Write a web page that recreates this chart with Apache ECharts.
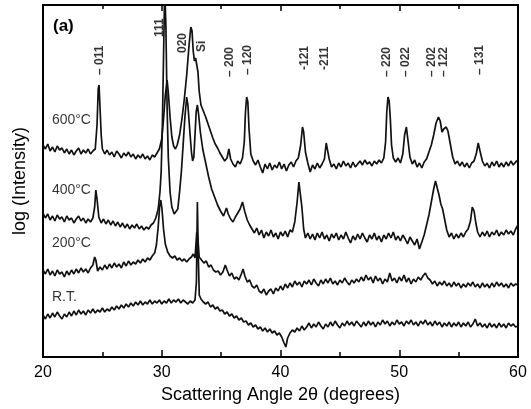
<!DOCTYPE html>
<html>
<head>
<meta charset="utf-8">
<script src="https://cdn.jsdelivr.net/npm/echarts@6/dist/echarts.min.js"></script>
<style>
  html, body { margin: 0; padding: 0; background: #fff; }
  #chart { width: 531px; height: 409px; }
</style>
</head>
<body>
<div id="chart"></div>
<script>
// XRD scans, [2theta, log intensity (arbitrary, offset per temperature)]
const scan600 = [
  [20.0,212],[20.2,208],[20.4,213],[20.6,206],[20.8,210],[21.0,205],[21.2,211],[21.4,207],[21.6,209],[21.8,204],
  [22.0,208],[22.2,203],[22.4,207],[22.6,202],[22.8,206],[23.0,209],[23.2,203],[23.4,207],[23.6,204],[23.8,208],
  [24.0,203],[24.2,206],[24.4,208],[24.55,232],[24.65,268],[24.72,272],[24.8,250],[24.9,222],[25.0,208],[25.2,203],
  [25.4,207],[25.6,202],[25.8,205],[26.0,200],[26.2,206],[26.4,203],[26.6,199],[26.8,204],[27.0,201],[27.2,205],
  [27.4,200],[27.6,203],[27.8,198],[28.0,202],[28.2,199],[28.4,203],[28.6,198],[28.8,201],[29.0,197],[29.2,202],
  [29.4,200],[29.6,204],[29.8,208],[30.0,218],[30.15,238],[30.3,262],[30.45,277],[30.55,265],[30.7,240],[30.85,220],
  [31.0,211],[31.15,208],[31.3,212],[31.5,222],[31.7,238],[31.9,258],[32.1,282],[32.3,312],[32.45,330],[32.55,326],
  [32.65,306],[32.75,296],[32.85,299],[32.95,297],[33.05,285],[33.15,266],[33.3,252],[33.5,246],[33.7,240],[33.9,233],
  [34.1,226],[34.3,219],[34.5,213],[34.7,209],[34.9,204],[35.1,200],[35.3,196],[35.5,199],[35.65,208],[35.8,198],
  [36.0,193],[36.2,190],[36.4,196],[36.6,193],[36.8,199],[36.95,215],[37.05,245],[37.15,260],[37.25,255],[37.35,228],
  [37.5,203],[37.7,196],[37.9,192],[38.1,197],[38.3,190],[38.5,184],[38.7,193],[38.9,188],[39.1,194],[39.3,187],
  [39.5,192],[39.7,189],[39.9,195],[40.1,188],[40.3,193],[40.5,186],[40.7,192],[40.9,195],[41.1,190],[41.3,196],
  [41.5,199],[41.7,212],[41.85,230],[41.95,225],[42.1,205],[42.3,194],[42.5,185],[42.7,192],[42.9,188],[43.1,194],
  [43.3,189],[43.5,193],[43.7,198],[43.85,214],[43.95,212],[44.1,198],[44.3,190],[44.5,193],[44.7,188],[44.9,194],
  [45.1,190],[45.3,196],[45.5,191],[45.7,194],[45.9,189],[46.1,195],[46.3,190],[46.5,193],[46.7,196],[46.9,192],
  [47.1,197],[47.3,193],[47.5,195],[47.7,191],[47.9,196],[48.1,193],[48.3,197],[48.5,194],[48.7,199],[48.85,215],
  [48.95,245],[49.05,260],[49.15,256],[49.25,238],[49.35,212],[49.5,199],[49.7,195],[49.9,199],[50.1,194],[50.3,203],
  [50.45,222],[50.6,230],[50.75,215],[50.9,200],[51.1,193],[51.3,197],[51.5,190],[51.7,194],[51.9,189],[52.1,195],
  [52.3,198],[52.5,205],[52.7,212],[52.9,222],[53.1,234],[53.3,240],[53.45,236],[53.6,225],[53.75,228],[53.95,230],
  [54.1,226],[54.3,213],[54.5,200],[54.7,193],[54.9,196],[55.1,191],[55.3,195],[55.5,190],[55.7,194],[55.9,189],
  [56.1,194],[56.3,196],[56.5,204],[56.65,214],[56.8,206],[57.0,196],[57.2,191],[57.4,194],[57.6,189],[57.8,195],
  [58.0,191],[58.2,196],[58.4,190],[58.6,194],[58.8,190],[59.0,195],[59.2,191],[59.4,196],[59.6,192],[59.8,195],[60.0,197]
];
const scan400 = [
  [20.0,144],[20.2,139],[20.4,143],[20.6,137],[20.8,141],[21.0,136],[21.2,142],[21.4,138],[21.6,140],[21.8,135],
  [22.0,141],[22.2,137],[22.4,139],[22.6,134],[22.8,138],[23.0,141],[23.2,136],[23.4,139],[23.6,134],[23.8,138],
  [24.0,135],[24.2,139],[24.35,150],[24.45,167],[24.55,158],[24.7,140],[24.9,134],[25.1,138],[25.3,133],[25.5,137],
  [25.7,132],[25.9,136],[26.1,131],[26.3,135],[26.5,130],[26.7,134],[26.9,129],[27.1,133],[27.3,128],[27.5,132],
  [27.7,129],[27.9,133],[28.1,128],[28.3,131],[28.5,127],[28.7,130],[28.9,128],[29.1,132],[29.3,134],[29.5,139],
  [29.7,148],[29.85,165],[29.95,185],[30.05,230],[30.15,300],[30.25,370],[30.35,330],[30.45,250],[30.55,200],[30.7,165],
  [30.85,150],[31.05,143],[31.2,141],[31.35,148],[31.5,165],[31.65,185],[31.8,212],[31.95,240],[32.1,260],[32.2,252],
  [32.35,228],[32.5,205],[32.6,196],[32.7,200],[32.8,222],[32.9,245],[33.0,252],[33.1,243],[33.25,225],[33.45,208],
  [33.7,194],[33.95,180],[34.2,168],[34.45,160],[34.7,152],[34.95,146],[35.2,141],[35.45,149],[35.6,143],[35.8,138],
  [36.0,135],[36.2,140],[36.4,144],[36.6,148],[36.8,155],[37.0,145],[37.2,137],[37.4,132],[37.6,128],[37.8,124],
  [38.0,129],[38.2,122],[38.4,127],[38.6,119],[38.8,125],[39.0,121],[39.2,127],[39.4,120],[39.6,124],[39.8,118],
  [40.0,125],[40.2,121],[40.4,126],[40.6,120],[40.8,127],[41.0,125],[41.2,135],[41.4,155],[41.55,175],[41.65,173],
  [41.8,150],[41.95,128],[42.1,119],[42.3,124],[42.5,118],[42.7,123],[42.9,117],[43.1,124],[43.3,119],[43.5,125],
  [43.7,118],[43.9,122],[44.1,116],[44.3,123],[44.5,119],[44.7,124],[44.9,117],[45.1,122],[45.3,118],[45.5,125],
  [45.7,119],[45.9,114],[46.1,121],[46.3,117],[46.5,123],[46.7,118],[46.9,124],[47.1,119],[47.3,115],[47.5,122],
  [47.7,118],[47.9,124],[48.1,117],[48.3,121],[48.5,115],[48.7,122],[48.9,118],[49.1,124],[49.3,119],[49.5,125],
  [49.7,117],[49.9,121],[50.1,116],[50.3,122],[50.5,118],[50.7,113],[50.9,120],[51.1,116],[51.3,112],[51.5,118],
  [51.7,108],[51.9,115],[52.1,122],[52.3,132],[52.5,142],[52.7,155],[52.9,168],[53.05,176],[53.2,175],[53.35,162],
  [53.5,153],[53.65,148],[53.8,139],[54.0,127],[54.2,120],[54.4,124],[54.6,118],[54.8,123],[55.0,119],[55.2,124],
  [55.4,120],[55.6,125],[55.8,128],[56.0,136],[56.15,150],[56.3,146],[56.45,134],[56.6,125],[56.8,120],[57.0,125],
  [57.2,121],[57.4,126],[57.6,120],[57.8,125],[58.0,122],[58.2,127],[58.4,121],[58.6,125],[58.8,122],[59.0,127],
  [59.2,123],[59.4,126],[59.6,122],[59.8,128],[60.0,132]
];
const scan200 = [
  [20.0,87],[20.2,83],[20.4,88],[20.6,82],[20.8,86],[21.0,81],[21.2,87],[21.4,83],[21.6,85],[21.8,80],
  [22.0,86],[22.2,82],[22.4,87],[22.6,83],[22.8,88],[23.0,84],[23.2,89],[23.4,85],[23.6,88],[23.8,84],
  [24.0,89],[24.2,92],[24.35,100],[24.45,97],[24.6,86],[24.8,90],[25.0,87],[25.2,92],[25.4,88],[25.6,93],
  [25.8,89],[26.0,94],[26.2,90],[26.4,93],[26.6,89],[26.8,95],[27.0,91],[27.2,96],[27.4,92],[27.6,95],
  [27.8,93],[28.0,97],[28.2,94],[28.4,98],[28.6,95],[28.8,99],[29.0,97],[29.2,101],[29.4,104],[29.55,112],
  [29.7,130],[29.82,150],[29.92,157],[30.02,148],[30.15,128],[30.3,113],[30.5,105],[30.7,101],[30.9,99],[31.1,101],
  [31.3,97],[31.5,99],[31.7,96],[31.9,98],[32.1,95],[32.3,98],[32.5,100],[32.65,103],[32.8,99],[32.95,125],
  [33.05,118],[33.15,100],[33.35,97],[33.55,94],[33.75,96],[33.95,90],[34.15,92],[34.35,87],[34.55,85],[34.75,86],
  [34.95,82],[35.15,85],[35.35,92],[35.5,87],[35.7,81],[35.9,84],[36.1,78],[36.3,80],[36.5,77],[36.7,83],
  [36.85,88],[37.0,81],[37.2,75],[37.4,77],[37.6,71],[37.8,69],[38.0,72],[38.2,66],[38.4,64],[38.6,68],
  [38.8,62],[39.0,66],[39.2,68],[39.4,63],[39.6,69],[39.8,66],[40.0,71],[40.2,67],[40.4,73],[40.6,69],
  [40.8,74],[41.0,70],[41.2,76],[41.4,72],[41.6,75],[41.8,70],[42.0,76],[42.2,73],[42.4,77],[42.6,72],
  [42.8,78],[43.0,74],[43.2,71],[43.4,77],[43.6,73],[43.8,78],[44.0,74],[44.2,79],[44.4,73],[44.6,76],
  [44.8,72],[45.0,77],[45.2,74],[45.4,79],[45.6,75],[45.8,72],[46.0,77],[46.2,74],[46.4,78],[46.6,75],
  [46.8,80],[47.0,76],[47.2,82],[47.4,77],[47.6,80],[47.8,74],[48.0,81],[48.2,76],[48.4,79],[48.6,73],
  [48.8,78],[49.0,75],[49.2,84],[49.4,76],[49.6,79],[49.8,74],[50.0,80],[50.2,76],[50.4,82],[50.6,75],
  [50.8,79],[51.0,73],[51.2,78],[51.4,75],[51.6,80],[51.8,77],[52.0,81],[52.2,84],[52.4,79],[52.6,77],
  [52.8,73],[53.0,76],[53.2,71],[53.4,75],[53.6,72],[53.8,76],[54.0,71],[54.2,74],[54.4,70],[54.6,75],
  [54.8,71],[55.0,74],[55.2,69],[55.4,73],[55.6,70],[55.8,74],[56.0,71],[56.2,75],[56.4,70],[56.6,73],
  [56.8,69],[57.0,74],[57.2,70],[57.4,73],[57.6,69],[57.8,74],[58.0,70],[58.2,75],[58.4,71],[58.6,74],
  [58.8,70],[59.0,73],[59.2,69],[59.4,74],[59.6,71],[59.8,73],[60.0,72]
];
const scanRT = [
  [20.0,42],[20.2,38],[20.4,43],[20.6,39],[20.8,44],[21.0,40],[21.2,45],[21.4,41],[21.6,38],[21.8,43],
  [22.0,40],[22.2,45],[22.4,41],[22.6,46],[22.8,42],[23.0,47],[23.2,43],[23.4,46],[23.6,42],[23.8,47],
  [24.0,44],[24.2,48],[24.4,44],[24.6,47],[24.8,45],[25.0,49],[25.2,45],[25.4,48],[25.6,46],[25.8,50],
  [26.0,47],[26.2,51],[26.4,48],[26.6,52],[26.8,49],[27.0,53],[27.2,50],[27.4,54],[27.6,51],[27.8,55],
  [28.0,52],[28.2,56],[28.4,52],[28.6,55],[28.8,53],[29.0,57],[29.2,53],[29.4,56],[29.6,54],[29.8,57],
  [30.0,53],[30.2,56],[30.4,54],[30.6,58],[30.8,54],[31.0,57],[31.2,55],[31.4,58],[31.6,54],[31.8,57],
  [32.0,55],[32.2,53],[32.4,56],[32.6,54],[32.8,57],[32.92,75],[33.0,155],[33.08,100],[33.16,62],[33.3,58],
  [33.5,55],[33.7,53],[33.9,55],[34.1,50],[34.3,52],[34.5,48],[34.7,50],[34.9,46],[35.1,47],[35.3,43],
  [35.5,45],[35.7,41],[35.9,43],[36.1,39],[36.3,41],[36.5,37],[36.7,39],[36.9,35],[37.1,36],[37.3,32],
  [37.5,34],[37.7,30],[37.9,32],[38.1,28],[38.3,30],[38.5,26],[38.7,29],[38.9,25],[39.1,28],[39.3,24],
  [39.5,26],[39.7,22],[39.9,24],[40.1,20],[40.3,14],[40.45,10],[40.6,19],[40.8,24],[41.0,27],[41.2,25],
  [41.4,29],[41.6,26],[41.8,31],[42.0,27],[42.2,30],[42.4,34],[42.6,29],[42.8,33],[43.0,30],[43.2,35],
  [43.4,31],[43.6,28],[43.8,33],[44.0,30],[44.2,35],[44.4,31],[44.6,36],[44.8,32],[45.0,29],[45.2,34],
  [45.4,31],[45.6,36],[45.8,32],[46.0,35],[46.2,31],[46.4,36],[46.6,33],[46.8,30],[47.0,35],[47.2,31],
  [47.4,36],[47.6,32],[47.8,35],[48.0,30],[48.2,35],[48.4,32],[48.6,37],[48.8,33],[49.0,36],[49.2,31],
  [49.4,35],[49.6,32],[49.8,37],[50.0,33],[50.2,35],[50.4,31],[50.6,36],[50.8,33],[51.0,37],[51.2,32],
  [51.4,35],[51.6,31],[51.8,36],[52.0,33],[52.2,37],[52.4,32],[52.6,35],[52.8,31],[53.0,36],[53.2,32],
  [53.4,35],[53.6,30],[53.8,34],[54.0,31],[54.2,35],[54.4,30],[54.6,34],[54.8,31],[55.0,35],[55.2,30],
  [55.4,34],[55.6,31],[55.8,35],[56.0,30],[56.2,33],[56.4,38],[56.6,31],[56.8,34],[57.0,30],[57.2,33],
  [57.4,29],[57.6,34],[57.8,30],[58.0,33],[58.2,29],[58.4,34],[58.6,30],[58.8,33],[59.0,29],[59.2,34],
  [59.4,31],[59.6,33],[59.8,30],[60.0,31]
];

// reflection labels (hkl) along the top
const peakAngle = [24.8, 29.85, 31.8, 33.4, 35.75, 37.25, 42.05, 43.75, 48.95, 50.5, 52.75, 53.7, 56.8];
const peakText = ['– 011', '111', '020', 'Si', '– 200', '– 120', '-121', '-211', '– 220', '– 022', '– 202', '– 122', '– 131'];
const peakLabelBase = [282, 320, 304, 305, 280, 282, 287, 287, 280, 280, 280, 280, 282];

// temperature labels on the left
const tempText = ['600°C', '400°C', '200°C', 'R.T.'];
const tempLevel = [237, 167, 114, 60];

const xTicks = [20, 30, 40, 50, 60];

const chart = echarts.init(document.getElementById('chart'));

const tickStyle = { color: '#000', width: 1.5 };
const fontFam = 'Liberation Sans, Arial, sans-serif';

const lineSeries = (data) => ({
  type: 'line',
  data: data,
  showSymbol: false,
  symbol: 'none',
  clip: true,
  animation: false,
  lineStyle: { color: '#111', width: 1.7 },
  z: 3
});

const option = {
  animation: false,
  grid: {
    left: 43, right: 13, top: 5, bottom: 52,
    show: true, borderColor: '#000', borderWidth: 2, backgroundColor: 'transparent'
  },
  xAxis: [
    {
      type: 'value', position: 'bottom',
      min: xTicks[0], max: xTicks[xTicks.length - 1], interval: 10,
      name: 'Scattering Angle 2θ (degrees)',
      nameLocation: 'middle', nameGap: 29,
      nameTextStyle: { fontSize: 18, color: '#000', fontFamily: fontFam },
      axisLine: { show: false },
      axisTick: { show: true, inside: true, length: 7, lineStyle: tickStyle },
      minorTick: { show: true, splitNumber: 2, length: 5, lineStyle: tickStyle },
      axisLabel: { fontSize: 16, color: '#000', fontFamily: fontFam, margin: 8 },
      splitLine: { show: false }
    },
    {
      type: 'value', position: 'top',
      min: xTicks[0], max: xTicks[xTicks.length - 1], interval: 10,
      axisLine: { show: false },
      axisTick: { show: true, inside: true, length: 6, lineStyle: tickStyle },
      minorTick: { show: true, splitNumber: 2, length: 4, lineStyle: tickStyle },
      axisLabel: { show: false },
      splitLine: { show: false }
    }
  ],
  yAxis: {
    type: 'value', min: 0, max: 352,
    name: 'log (Intensity)',
    nameLocation: 'middle', nameGap: 14,
    nameTextStyle: { fontSize: 18, color: '#000', fontFamily: fontFam },
    axisLine: { show: false },
    axisTick: { show: false },
    axisLabel: { show: false },
    splitLine: { show: false }
  },
  graphic: [
    {
      type: 'text', left: 53, top: 18,
      style: { text: '(a)', font: 'bold 17px ' + fontFam, fill: '#000' }
    }
  ],
  series: [
    lineSeries(scan600),
    lineSeries(scan400),
    lineSeries(scan200),
    lineSeries(scanRT),
    {
      type: 'scatter',
      symbolSize: 0,
      silent: true,
      animation: false,
      data: peakAngle.map((a, i) => ({ value: [a, peakLabelBase[i]], name: peakText[i] })),
      label: {
        show: true, position: 'inside', rotate: 90,
        align: 'left', verticalAlign: 'middle',
        formatter: (p) => p.name,
        fontSize: 12, fontWeight: 'bold', color: '#000', fontFamily: fontFam
      },
      z: 5
    },
    {
      type: 'scatter',
      symbolSize: 0,
      silent: true,
      animation: false,
      data: tempText.map((t, i) => ({ value: [20.75, tempLevel[i]], name: t })),
      label: {
        show: true, position: 'inside',
        align: 'left', verticalAlign: 'middle',
        formatter: (p) => p.name,
        fontSize: 14, color: '#000', fontFamily: fontFam
      },
      z: 5
    }
  ]
};

chart.setOption(option);
</script>
</body>
</html>
